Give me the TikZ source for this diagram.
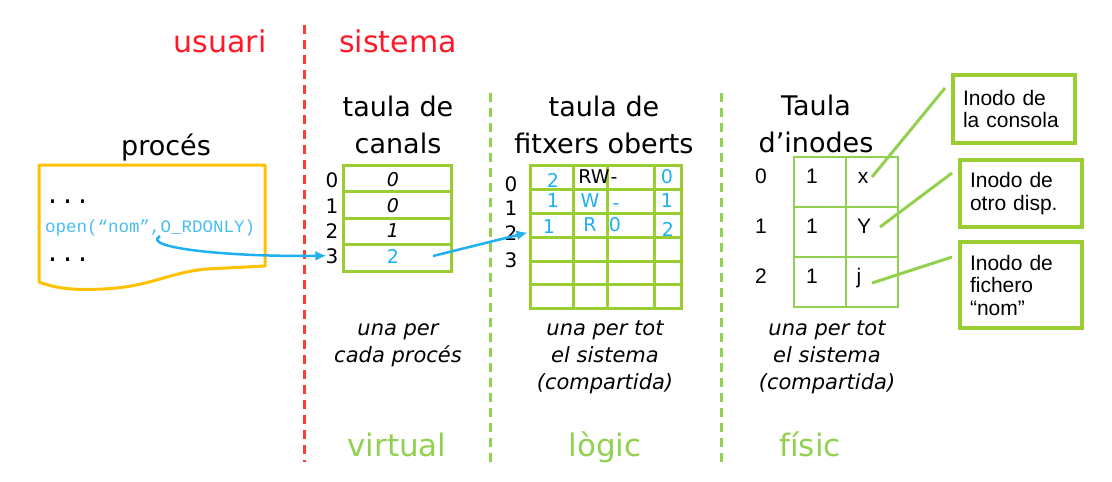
\documentclass[tikz,border=0pt]{standalone}
\usepackage{fontspec}
\setmainfont{DejaVu Sans}
\setmonofont{Liberation Mono}
\newfontfamily\arialfont{Liberation Sans}
\usetikzlibrary{arrows.meta}

\definecolor{userred}{RGB}{255,25,40}
\definecolor{dashred}{RGB}{255,60,50}
\definecolor{lightgreen}{RGB}{146,208,80}
\definecolor{tablegreen}{RGB}{154,205,50}
\definecolor{callblue}{RGB}{30,176,240}
\definecolor{codeblue}{RGB}{70,190,240}
\definecolor{docyellow}{RGB}{255,192,0}

\newcommand{\fsz}[2]{\fontsize{#1}{#2}\selectfont}

\begin{document}
\begin{tikzpicture}[x=1pt,y=-1pt,
    side/.style={text=userred, font=\fsz{30}{36}, anchor=base},
    title/.style={font=\fsz{27}{37}, align=center, anchor=base},
    note/.style={font=\fsz{21}{27}\itshape, align=center, anchor=base},
    level/.style={text=lightgreen, font=\fsz{31}{37}, anchor=base},
    idx/.style={font=\fsz{20}{24}, inner sep=0pt, anchor=base},
    cell/.style={font=\fsz{19}{23}, inner sep=0pt, anchor=base},
    ino/.style={font=\arialfont\fsz{21}{24}, inner sep=0pt, anchor=base},
    tab/.style={draw=tablegreen, line width=3pt},
    thin/.style={draw=lightgreen, line width=1.5pt},
    inobox/.style={draw=tablegreen, line width=3.5pt, font=\arialfont\fsz{21}{22.5},
      align=left, text width=102pt, inner xsep=10pt, inner ysep=0pt},
    link/.style={draw=lightgreen, line width=3pt},
    call/.style={draw=callblue, line width=2.5pt, -{Latex[length=11pt,width=10pt]}}]
  \useasboundingbox (0,0) rectangle (1112,482);

  %% Draw the two sides
  \node[side] (usuari) at (220,52) {usuari};
  \node[side] (sistema) at (398,52) {sistema};
  \draw[dashred, line width=3pt, dash pattern=on 9pt off 6pt] (304,25) -- (304,462);
  \draw[lightgreen, line width=3pt, dash pattern=on 9pt off 6pt] (490,93) -- (490,462);
  \draw[lightgreen, line width=3pt, dash pattern=on 9pt off 6pt] (721,93) -- (721,462);

  %% Draw the process
  \node[title] (proces) at (166,155) {procés};
  \draw[docyellow, line width=3pt, line join=round] (265,266) -- (265,165) -- (39,165) -- (39,282)
    .. controls (60,290) and (80,290) .. (103,289)
    .. controls (150,287) and (170,272) .. (207,269) -- cycle;
  \node[font=\ttfamily\fsz{25}{25}, anchor=base west, inner sep=0pt] (dots1) at (45,203) {...};
  \node[font=\ttfamily\fsz{17.5}{20}, text=codeblue, anchor=base west, inner sep=0pt] (open) at (45,232)
    {open(“nom”,O\_RDONLY)};
  \node[font=\ttfamily\fsz{25}{25}, anchor=base west, inner sep=0pt] (dots2) at (45,261) {...};

  %% Draw the table of channels
  \node[title] (canals) at (398,153) {taula de\\canals};
  \draw[tab] (343,165) rectangle (451,271)
    (343,191.5) -- (451,191.5) (343,218) -- (451,218) (343,244.5) -- (451,244.5);
  \node[idx] (l0) at (332,187) {0};
  \node[idx] (l1) at (332,213) {1};
  \node[idx] (l2) at (332,238) {2};
  \node[idx] (l3) at (332,263) {3};
  \node[cell] (c0) at (393,186) {\itshape 0};
  \node[cell] (c1) at (393,212) {\itshape 0};
  \node[cell] (c2) at (393,237) {\itshape 1};
  \node[cell, text=callblue] (c3) at (393,263) {2};
  \node[note] (perproc) at (398,362) {una per\\cada procés};
  \node[level] (virtual) at (397,456) {virtual};

  %% Draw the table of open files
  \node[title] (fitxers) at (604,153) {taula de\\fitxers oberts};
  \draw[tab] (530,165) rectangle (681,308)
    (530,189.5) -- (681,189.5) (530,213.5) -- (681,213.5) (530,237) -- (681,237)
    (530,261) -- (681,261) (530,284.5) -- (681,284.5)
    (573,165) -- (573,308) (607,165) -- (607,308) (654,165) -- (654,308);
  \node[idx] (f0) at (511,191) {0};
  \node[idx] (f1) at (511,215) {1};
  \node[idx] (f2) at (511,240) {2};
  \node[idx] (f3) at (511,267) {3};
  \begin{scope}[every node/.style={cell, text=callblue}]
    \node (a0) at (553,187) {2};
    \node[text=black] (b0) at (594,183) {RW};
    \node[text=black] (d0) at (614,183) {-};
    \node (e0) at (667,183) {0};
    \node (a1) at (553,207) {1};
    \node (b1) at (590,207) {W};
    \node (d1) at (616,209) {-};
    \node (e1) at (667,207) {1};
    \node (a2) at (549,233) {1};
    \node (b2) at (590,231) {R};
    \node (d2) at (615,231) {0};
    \node (e2) at (668,236) {2};
  \end{scope}
  \node[note] (pertot1) at (605,389) {una per tot\\el sistema\\(compartida)};
  \node[level] (logic) at (605,456) {lògic};

  %% Draw the table of inodes
  \node[title] (inodes) at (816,152) {Taula\\d’inodes};
  \draw[thin] (794,157) rectangle (898,307)
    (846,157) -- (846,307) (794,207) -- (898,207) (794,257) -- (898,257);
  \node[ino] (i0) at (761,183) {0};
  \node[ino] (i1) at (761,233) {1};
  \node[ino] (i2) at (761,283) {2};
  \node[ino] (r0) at (812,183) {1};
  \node[ino] (r1) at (812,233) {1};
  \node[ino] (r2) at (812,283) {1};
  \node[ino] (ix) at (863,183) {x};
  \node[ino] (iy) at (864,233) {Y};
  \node[ino] (ij) at (859,283) {j};
  \node[note] (pertot2) at (827,389) {una per tot\\el sistema\\(compartida)};
  \node[level] (fisic) at (810,456) {físic};

  %% Draw the inode boxes
  \node[inobox, minimum height=68pt] (consola) at (1014,109) {Inodo de\\la consola};
  \node[inobox, minimum height=67pt] (disp) at (1021,193.5) {Inodo de\\otro disp.};
  \node[inobox, minimum height=86pt] (fichero) at (1021,285) {Inodo de\\fichero\\“nom”};
  \coordinate (k0) at (945,88);
  \coordinate (k1) at (952,173);
  \coordinate (k2) at (952,257);
  \draw[link] (872,177) -- (k0);
  \draw[link] (880,227) -- (k1);
  \draw[link] (872,283) -- (k2);

  %% Draw the calls
  \coordinate (comma) at (160,236);
  \coordinate (slot) at (433,256);
  \draw[call] (comma) .. controls (140,248) and (230,257) .. ([xshift=1pt]l3.west);
  \draw[call] (slot) -- ([xshift=10pt]f2.east);
\end{tikzpicture}
\end{document}
